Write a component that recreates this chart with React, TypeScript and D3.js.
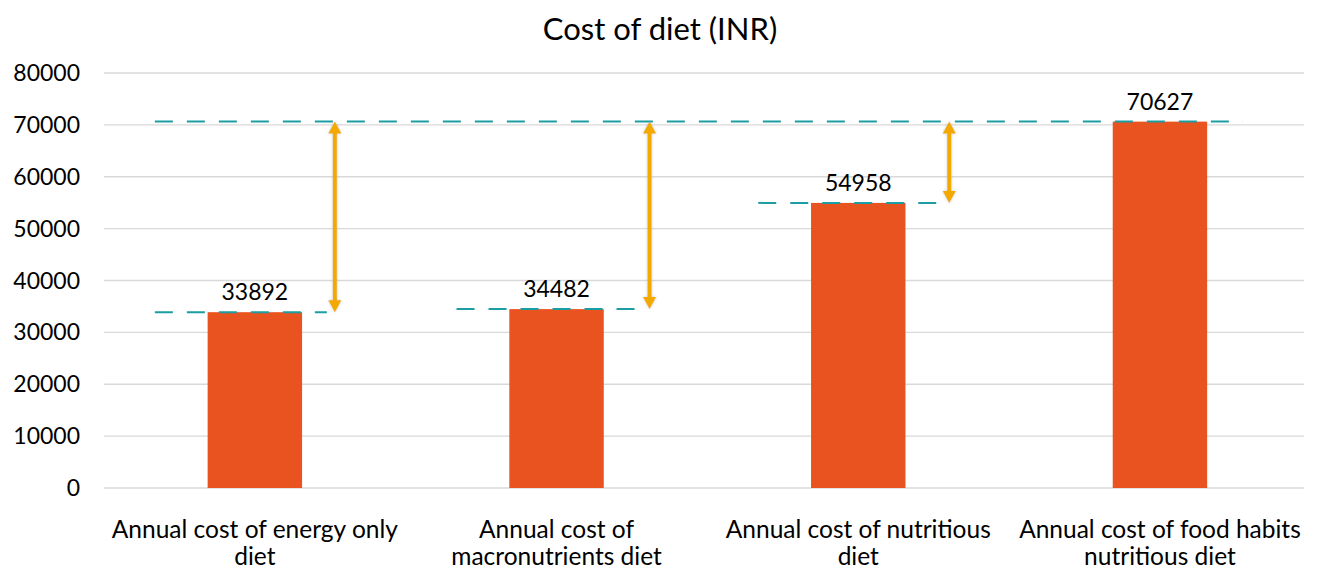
import React from "react";
import * as d3 from "d3";

const categories = [
  ["Annual cost of energy only", "diet"],
  ["Annual cost of", "macronutrients diet"],
  ["Annual cost of nutritious", "diet"],
  ["Annual cost of food habits", "nutritious diet"],
];
const costs = [33892, 34482, 54958, 70627];
const yTicks = [0, 10000, 20000, 30000, 40000, 50000, 60000, 70000, 80000];
const title = "Cost of diet (INR)";

const W = 1319;
const H = 572;
const FONT = "Lato, 'Open Sans', sans-serif";

export default function App() {
  const plotLeft = 104;
  const plotRight = 1304;
  const bandW = 301.7;
  const x = d3
    .scaleBand<number>()
    .domain(d3.range(categories.length))
    .range([plotLeft, plotLeft + bandW * categories.length])
    .paddingInner(0.687)
    .paddingOuter(0.3435);
  const y = d3.scaleLinear().domain([0, 80000]).range([488, 73]);

  const top = costs[costs.length - 1];
  const topY = y(top);
  const center = (i: number) => (x(i) as number) + x.bandwidth() / 2;
  const teal = "#1A9DA3";
  const orange = "#F2A900";

  // reference lines and gap arrows for the three cheaper diets
  const lineEnd = [72, 88, 86];
  const arrowOff = [80, 93, 91];
  const refLines = [0, 1, 2].map((i) => ({
    x1: center(i) - 100,
    x2: center(i) + lineEnd[i],
    y: y(costs[i]),
    arrowX: center(i) + arrowOff[i],
  }));

  const head = 12;
  const halfW = 6.5;

  return (
    <svg width={W} height={H} style={{ position: "absolute", left: 0, top: 0 }}>
      <defs>
        <filter id="glow" filterUnits="userSpaceOnUse" x="0" y="0" width={W} height={H}>
          <feDropShadow dx="0" dy="0" stdDeviation="1.6" floodColor="#9a9a9a" floodOpacity="0.5" />
        </filter>
      </defs>
      <rect width={W} height={H} fill="#fff" />
      <text x={660} y={40} textAnchor="middle" fontFamily={FONT} fontSize={31} fill="#000">
        {title}
      </text>
      {yTicks.map((t) => (
        <g key={t}>
          <line x1={plotLeft} x2={plotRight} y1={y(t)} y2={y(t)} stroke="#d9d9d9" strokeWidth={1.3} />
          <text x={80} y={y(t) + 8} textAnchor="end" fontFamily={FONT} fontSize={23} fill="#000">
            {t}
          </text>
        </g>
      ))}
      {costs.map((v, i) => (
        <g key={i}>
          <rect x={x(i)} y={y(v)} width={x.bandwidth()} height={y(0) - y(v)} fill="#E9531F" />
          <text x={center(i)} y={y(v) - 12} textAnchor="middle" fontFamily={FONT} fontSize={23} fill="#000">
            {v}
          </text>
          {categories[i].map((line, k) => (
            <text key={k} x={center(i)} y={538 + k * 27} textAnchor="middle" fontFamily={FONT} fontSize={24.5} fill="#000">
              {line}
            </text>
          ))}
        </g>
      ))}
      <line x1={center(0) - 100} x2={center(3) + 83} y1={topY} y2={topY} stroke={teal} strokeWidth={2} strokeDasharray="18 14" />
      {refLines.map((r, i) => (
        <g key={i}>
          <line x1={r.x1} x2={r.x2} y1={r.y} y2={r.y} stroke={teal} strokeWidth={2} strokeDasharray="18 14" />
          <g filter="url(#glow)">
            <line x1={r.arrowX} x2={r.arrowX} y1={topY + head - 1} y2={r.y - head + 1} stroke={orange} strokeWidth={4} />
            <path
              d={`M${r.arrowX},${topY} L${r.arrowX + halfW},${topY + head} L${r.arrowX - halfW},${topY + head} Z`}
              fill={orange}
            />
            <path
              d={`M${r.arrowX},${r.y} L${r.arrowX + halfW},${r.y - head} L${r.arrowX - halfW},${r.y - head} Z`}
              fill={orange}
            />
          </g>
        </g>
      ))}
    </svg>
  );
}
